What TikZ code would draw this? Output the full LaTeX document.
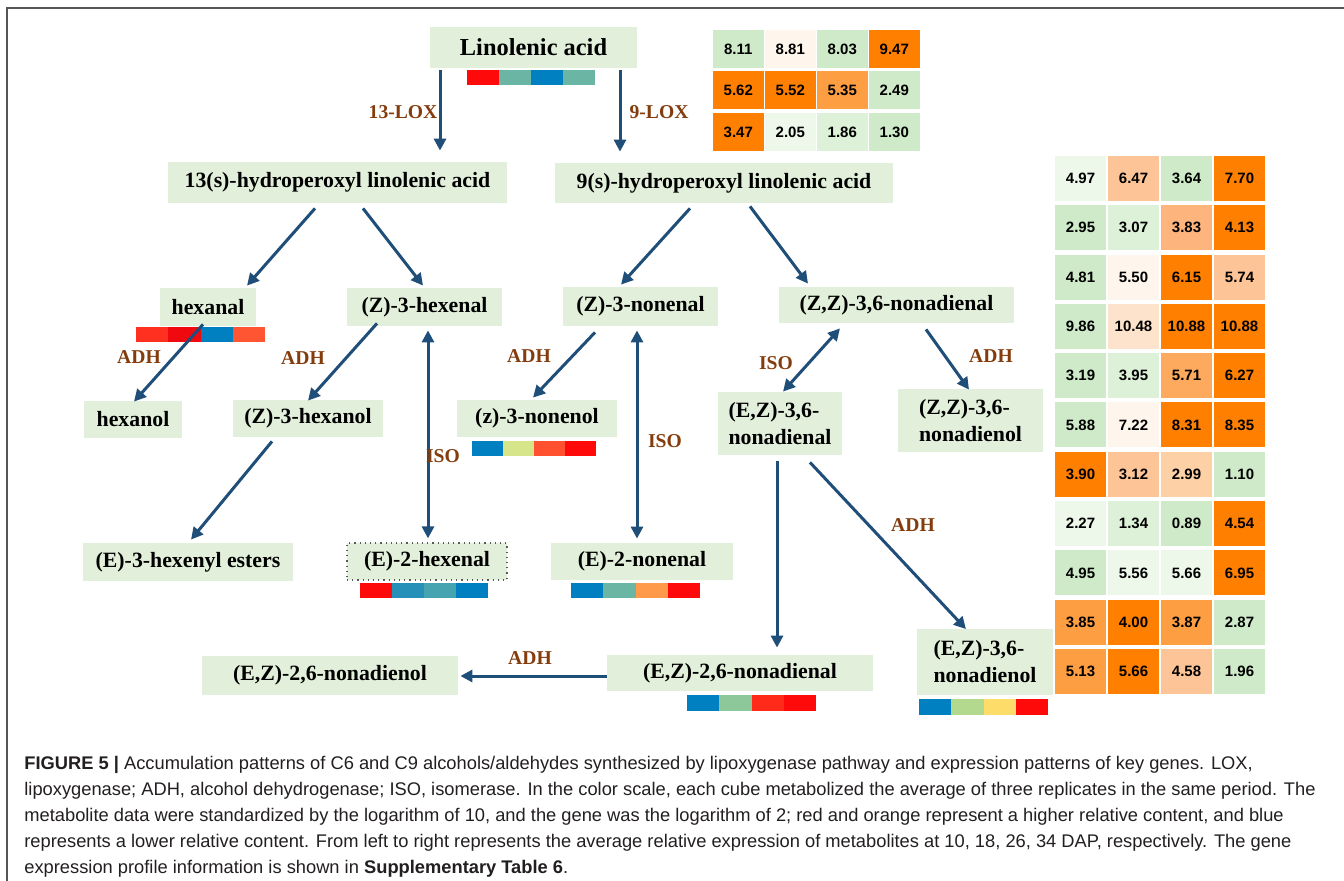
\documentclass[tikz,border=0pt]{standalone}
\usepackage{fontspec}
\setmainfont{Liberation Serif}
\newfontfamily\capfont{Liberation Sans}
\usetikzlibrary{arrows.meta,calc}
\definecolor{boxgreen}{HTML}{E2EFDA}
\definecolor{arrowblue}{HTML}{1F4E79}
\definecolor{enzbrown}{HTML}{843C0C}
\definecolor{framegray}{HTML}{555555}
\definecolor{captext}{HTML}{231F20}
\definecolor{cor}{HTML}{FF7F00}
\definecolor{co1}{HTML}{FE9E43}
\definecolor{co2}{HTML}{FDC597}
\definecolor{co3}{HTML}{FDD1A5}
\definecolor{co4}{HTML}{FDE3CB}
\definecolor{co5}{HTML}{FEF5EC}
\definecolor{co6}{HTML}{FDB47D}
\definecolor{co7}{HTML}{FDAA5E}
\definecolor{cg1}{HTML}{CEEAC8}
\definecolor{cg2}{HTML}{DDF0D8}
\definecolor{cg3}{HTML}{EDF7EA}
\definecolor{bred}{HTML}{FF0A0A}
\definecolor{bblue}{HTML}{0080C0}
\definecolor{bteal}{HTML}{6BB5A5}
\definecolor{bora}{HTML}{FF3020}
\definecolor{bred2}{HTML}{F00A10}
\definecolor{bora2}{HTML}{FF5533}
\definecolor{byg}{HTML}{D6E48A}
\definecolor{bora3}{HTML}{FF5030}
\definecolor{bblue2}{HTML}{2690B8}
\definecolor{bteal2}{HTML}{46A4B0}
\definecolor{bpeach}{HTML}{FF9A4A}
\definecolor{bgreen}{HTML}{8DC89A}
\definecolor{bora4}{HTML}{FF2A1A}
\definecolor{blgreen}{HTML}{B2D98E}
\definecolor{byellow}{HTML}{FDDC6A}
\newcommand\tc[4]{\node[tcell,fill=#3] (t#1x#2) at ({738.25+52*#2},{49+41.5*#1}) {#4};}
\newcommand\rc[4]{\node[rcell,fill=#3] (r#1x#2) at ({1080.5+53*#2},{178.5+49.3*#1}) {#4};}
\newcommand\cbar[7]{%
  \fill[#4] (#1,#2) rectangle ++(#3/4,15.5);
  \fill[#5] ({#1+#3/4},#2) rectangle ++(#3/4,15.5);
  \fill[#6] ({#1+#3/2},#2) rectangle ++(#3/4,15.5);
  \fill[#7] ({#1+3*#3/4},#2) rectangle ++(#3/4,15.5);}
\begin{document}
\begin{tikzpicture}[x=0.5pt,y=-0.5pt,
  box/.style 2 args={fill=boxgreen, draw=none, inner sep=0pt, minimum width=#1*0.5pt, minimum height=#2*0.5pt,
     font=\bfseries\fontsize{10.9}{13.5}\selectfont, text=black},
  enz/.style={text=enzbrown, font=\bfseries\fontsize{9.8}{11}\selectfont, inner sep=0pt},
  arr/.style={draw=arrowblue, line width=1.5pt, -{Triangle[width=6pt,length=6pt]}},
  darr/.style={draw=arrowblue, line width=1.5pt, {Triangle[width=6pt,length=6pt]}-{Triangle[width=6pt,length=6pt]}},
  tcell/.style={draw=none, inner sep=0pt, minimum width=25.25pt, minimum height=19pt,
     font=\capfont\bfseries\fontsize{7.5}{8}\selectfont},
  rcell/.style={draw=none, inner sep=0pt, minimum width=25.5pt, minimum height=22.5pt,
     font=\capfont\bfseries\fontsize{7.5}{8}\selectfont},
  capline/.style={anchor=base west, inner sep=0pt, text=captext, font=\capfont\fontsize{9.15}{10}\selectfont}
]
\useasboundingbox (0,0) rectangle (1344,881);
\fill[white] (0,0) rectangle (1344,881);
\draw[framegray, line width=1pt] (7,881) -- (7,8) -- (1344,8);

% nodes
\node[box={207}{41}, font=\bfseries\fontsize{12.2}{14}\selectfont] (lin) at (533.5,47.5) {Linolenic acid};
\node[box={339}{41}] (h13) at (337.5,182.5) {13(s)-hydroperoxyl linolenic acid};
\node[box={338}{40}] (h9) at (724,183) {9(s)-hydroperoxyl linolenic acid};
\node[box={96}{38}] (hexanal) at (208,307) {hexanal};
\node[box={155}{38}] (zhexenal) at (424.5,307) {(Z)-3-hexenal};
\node[box={155}{39}] (znonenal) at (640.5,306.5) {(Z)-3-nonenal};
\node[box={235}{36}] (zzd) at (896.5,305) {(Z,Z)-3,6-nonadienal};
\node[box={98}{37}] (hexanol) at (133,419.5) {hexanol};
\node[box={150}{37}] (zhexanol) at (308,418.5) {(Z)-3-hexanol};
\node[box={160}{37}] (znonenol) at (537,418.5) {(z)-3-nonenol};
\node[box={124}{63}, align=left] (eznd) at (780,423.5) {(E,Z)-3,6-\\nonadienal};
\node[box={145}{63}, align=left] (zznl) at (970.5,420.5) {(Z,Z)-3,6-\\nonadienol};
\node[box={210}{38}] (esters) at (188,562) {(E)-3-hexenyl esters};
\node[box={160}{37}, draw=gray!70!black, dotted, line width=0.6pt] (ehexenal) at (427,561.5) {(E)-2-hexenal};
\node[box={182}{37}] (enonenal) at (642,561.5) {(E)-2-nonenal};
\node[box={266}{36}] (ez26d) at (740,673) {(E,Z)-2,6-nonadienal};
\node[box={136}{65}, align=left] (ez36nl) at (985,662) {(E,Z)-3,6-\\nonadienol};
\node[box={256}{39}] (ez26nl) at (330,675.5) {(E,Z)-2,6-nonadienol};

% colour bars
\cbar{467}{70}{128}{bred}{bteal}{bblue}{bteal}
\cbar{136}{327}{129}{bora}{bred2}{bblue}{bora2}
\cbar{472}{441}{124}{bblue}{byg}{bora3}{bred}
\cbar{360}{583}{128}{bred}{bblue2}{bteal2}{bblue}
\cbar{571}{583}{129}{bblue}{bteal}{bpeach}{bred}
\cbar{687}{695}{129}{bblue}{bgreen}{bora4}{bred}
\cbar{919}{699}{129}{bblue}{blgreen}{byellow}{bred}

% arrows
\draw[arr] ($(lin.south)+(-93.5,2)$) -- ($(h13.north)+(102.5,-11)$);
\draw[arr] ($(lin.south)+(86.5,2)$) -- ($(h9.north)+(-104,-11)$);
\draw[arr] ($(h13.south)+(-22.5,5)$) -- ($(hexanal.north)+(39,-2)$);
\draw[arr] ($(h13.south)+(25.5,5)$) -- ($(zhexenal.north)+(-1.5,-2)$);
\draw[arr] ($(h9.south)+(-34,5)$) -- ($(znonenal.north)+(-19.5,-2)$);
\draw[arr] ($(h9.south)+(26,3)$) -- ($(zzd.north)+(-88.5,-3)$);
\draw[arr] ($(hexanal.south)+(-5,-2)$) -- ($(hexanol.north)+(1,1)$);
\draw[arr] ($(zhexenal.south)+(-47.5,-3)$) -- ($(zhexanol.north)+(0,1)$);
\draw[arr] ($(znonenal.south)+(-45.5,6)$) -- ($(znonenol.north)+(-4,-2)$);
\draw[darr] ($(zhexenal.south)+(3.5,4)$) -- ($(ehexenal.north)+(1,-4)$);
\draw[darr] ($(znonenal.south)+(-3.5,4)$) -- ($(enonenal.north)+(-5,-4)$);
\draw[arr] ($(zhexanol.south)+(-36,4)$) -- ($(esters.north)+(3,-3)$);
\draw[darr] ($(zzd.south)+(-56.5,5)$) -- ($(eznd.north)+(3,0)$);
\draw[arr] ($(zzd.south)+(29.5,6)$) -- ($(zznl.north)+(-1.5,1)$);
\draw[arr] ($(eznd.south)+(-3,6)$) -- ($(ez26d.north)+(37,-7)$);
\draw[arr] ($(eznd.south)+(30,7)$) -- ($(ez36nl.north)+(-19,0)$);
\draw[arr] ($(ez26d.west)+(0,3)$) -- ($(ez26nl.east)+(2,0.5)$);

% enzyme labels
\node[enz] (l13lox) at (403,112) {13-LOX};
\node[enz] (l9lox) at (659,112) {9-LOX};
\node[enz] (ladh1) at (139,357) {ADH};
\node[enz] (ladh2) at (303,358) {ADH};
\node[enz] (ladh3) at (529,356) {ADH};
\node[enz] (liso1) at (443,456) {ISO};
\node[enz] (liso2) at (665,441) {ISO};
\node[enz] (liso3) at (776,363) {ISO};
\node[enz] (ladh4) at (991,356) {ADH};
\node[enz] (ladh5) at (913,525) {ADH};
\node[enz] (ladh6) at (530,658) {ADH};

% top heatmap
\tc{0}{0}{cg1}{8.11}\tc{0}{1}{co5}{8.81}\tc{0}{2}{cg1}{8.03}\tc{0}{3}{cor}{9.47}
\tc{1}{0}{cor}{5.62}\tc{1}{1}{cor}{5.52}\tc{1}{2}{co1}{5.35}\tc{1}{3}{cg1}{2.49}
\tc{2}{0}{cor}{3.47}\tc{2}{1}{cg3}{2.05}\tc{2}{2}{cg2}{1.86}\tc{2}{3}{cg1}{1.30}

% right heatmap
\rc{0}{0}{cg3}{4.97}\rc{0}{1}{co2}{6.47}\rc{0}{2}{cg1}{3.64}\rc{0}{3}{cor}{7.70}
\rc{1}{0}{cg1}{2.95}\rc{1}{1}{cg2}{3.07}\rc{1}{2}{co6}{3.83}\rc{1}{3}{cor}{4.13}
\rc{2}{0}{cg1}{4.81}\rc{2}{1}{co5}{5.50}\rc{2}{2}{cor}{6.15}\rc{2}{3}{co2}{5.74}
\rc{3}{0}{cg1}{9.86}\rc{3}{1}{co4}{10.48}\rc{3}{2}{cor}{10.88}\rc{3}{3}{cor}{10.88}
\rc{4}{0}{cg1}{3.19}\rc{4}{1}{cg2}{3.95}\rc{4}{2}{co7}{5.71}\rc{4}{3}{cor}{6.27}
\rc{5}{0}{cg1}{5.88}\rc{5}{1}{co5}{7.22}\rc{5}{2}{cor}{8.31}\rc{5}{3}{cor}{8.35}
\rc{6}{0}{cor}{3.90}\rc{6}{1}{co2}{3.12}\rc{6}{2}{co3}{2.99}\rc{6}{3}{cg1}{1.10}
\rc{7}{0}{cg3}{2.27}\rc{7}{1}{cg2}{1.34}\rc{7}{2}{cg1}{0.89}\rc{7}{3}{cor}{4.54}
\rc{8}{0}{cg1}{4.95}\rc{8}{1}{cg3}{5.56}\rc{8}{2}{cg3}{5.66}\rc{8}{3}{cor}{6.95}
\rc{9}{0}{co1}{3.85}\rc{9}{1}{cor}{4.00}\rc{9}{2}{co1}{3.87}\rc{9}{3}{cg1}{2.87}
\rc{10}{0}{co1}{5.13}\rc{10}{1}{cor}{5.66}\rc{10}{2}{co2}{4.58}\rc{10}{3}{cg1}{1.96}

% caption
\node[capline] (cap1) at (24,769) {\textbf{FIGURE 5 |} Accumulation patterns of C6 and C9 alcohols/aldehydes synthesized by lipoxygenase pathway and expression patterns of key genes. LOX,};
\node[capline] (cap2) at (24,795) {lipoxygenase; ADH, alcohol dehydrogenase; ISO, isomerase. In the color scale, each cube metabolized the average of three replicates in the same period. The};
\node[capline] (cap3) at (24,821) {metabolite data were standardized by the logarithm of 10, and the gene was the logarithm of 2; red and orange represent a higher relative content, and blue};
\node[capline] (cap4) at (24,847) {represents a lower relative content. From left to right represents the average relative expression of metabolites at 10, 18, 26, 34 DAP, respectively. The gene};
\node[capline] (cap5) at (24,873) {expression profile information is shown in \textbf{Supplementary Table 6}.};
\end{tikzpicture}
\end{document}
